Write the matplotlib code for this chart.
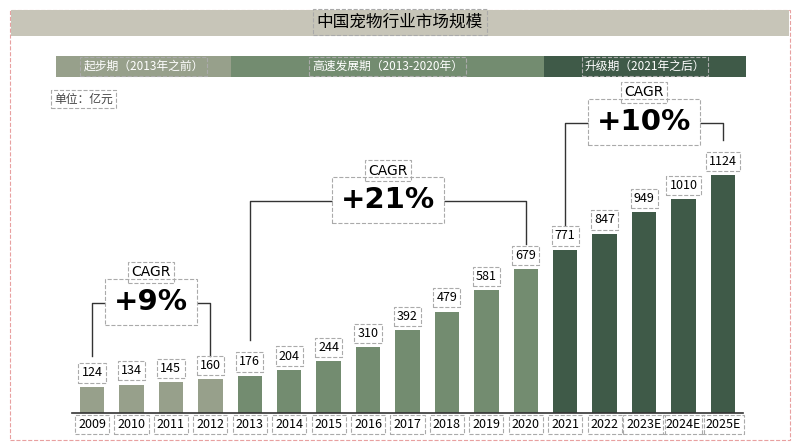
import matplotlib.pyplot as plt
from matplotlib.patches import Rectangle

plt.rcParams['font.family'] = ['Noto Sans CJK SC', 'DejaVu Sans']

years = ['2009', '2010', '2011', '2012', '2013', '2014', '2015', '2016', '2017',
         '2018', '2019', '2020', '2021', '2022', '2023E', '2024E', '2025E']
values = [124, 134, 145, 160, 176, 204, 244, 310, 392, 479, 581, 679, 771, 847, 949, 1010, 1124]
phases = ['起步期（2013年之前）', '高速发展期（2013-2020年）', '升级期（2021年之后）']
cagr = ['+9%', '+21%', '+10%']

C_EARLY = '#97a08b'
C_MID = '#738c70'
C_LATE = '#3f5a48'
colors = [C_EARLY] * 4 + [C_MID] * 8 + [C_LATE] * 5

W, H = 800, 445
fig = plt.figure(figsize=(8, 4.45), dpi=100)


def fx(x):
    return x / W


def fy(y):
    return 1 - y / H


dash_box = dict(boxstyle='square,pad=0.25', fc='none', ec='#aaaaaa', ls='--', lw=0.8)

# page border
fig.patches.append(Rectangle((fx(10), fy(440)), fx(780), 430 / H, transform=fig.transFigure,
                             fill=False, ec='#e8a0a0', ls='--', lw=0.8))
# title bar
fig.patches.append(Rectangle((fx(11), fy(36)), fx(778), 26 / H, transform=fig.transFigure,
                             fc='#c7c5b8', ec='none'))
fig.text(0.5, fy(22), '中国宠物行业市场规模', ha='center', va='center', fontsize=12,
         fontweight='medium', bbox=dash_box)

# phase bar
for (x0, x1), c, t in zip([(56, 231), (231, 544), (544, 746)], [C_EARLY, C_MID, C_LATE], phases):
    fig.patches.append(Rectangle((fx(x0), fy(77)), fx(x1 - x0), 21 / H, transform=fig.transFigure,
                                 fc=c, ec='none'))
    fig.text(fx((x0 + x1) / 2), fy(66.5), t, ha='center', va='center', fontsize=8.5,
             color='white', bbox=dash_box)

fig.text(fx(54), fy(99), '单位：亿元', ha='left', va='center', fontsize=8.5, color='#444444',
         bbox=dash_box)

# bars
ax = fig.add_axes([fx(72.3), 32 / H, fx(742.7 - 72.3), 363 / H])
ymax = 1124 * 363 / 238
x = range(len(years))
ax.bar(x, values, width=0.62, color=colors)
ax.set_xlim(-0.5, len(years) - 0.5)
ax.set_ylim(0, ymax)
ax.set_xticks([])
ax.set_yticks([])
for s in ['top', 'right', 'left']:
    ax.spines[s].set_visible(False)
ax.spines['bottom'].set_color('#333333')
ax.spines['bottom'].set_linewidth(1.2)
ax.patch.set_alpha(0)

for i, v in enumerate(values):
    ax.text(i, v + 65, str(v), ha='center', va='center', fontsize=9, bbox=dash_box)
    ax.text(i, -55, years[i], ha='center', va='center', fontsize=9, bbox=dash_box)

# CAGR brackets: (start idx, end idx, left low, right low, bracket height, label)
brackets = [(0, 3, 270, 270, 520, cagr[0]),
            (4, 11, 345, 800, 1000, cagr[1]),
            (12, 16, 890, 1290, 1370, cagr[2])]
for a, b, yl, yr, yh, lab in brackets:
    mid = (a + b) / 2
    gap = 1.0 if len(lab) < 4 else 1.3
    ax.plot([a, a, mid - gap], [yl, yh, yh], color='#333333', lw=1)
    ax.plot([mid + gap, b, b], [yh, yh, yr], color='#333333', lw=1)
    ax.text(mid, yh + 5, lab, ha='center', va='center', fontsize=21, fontweight='bold',
            family='DejaVu Sans', bbox=dict(boxstyle='square,pad=0.3', fc='white', ec='#aaaaaa', ls='--', lw=0.8))
    ax.text(mid, yh + 145, 'CAGR', ha='center', va='center', fontsize=10, family='DejaVu Sans',
            bbox=dash_box)

fig.savefig('out.png', dpi=100)
